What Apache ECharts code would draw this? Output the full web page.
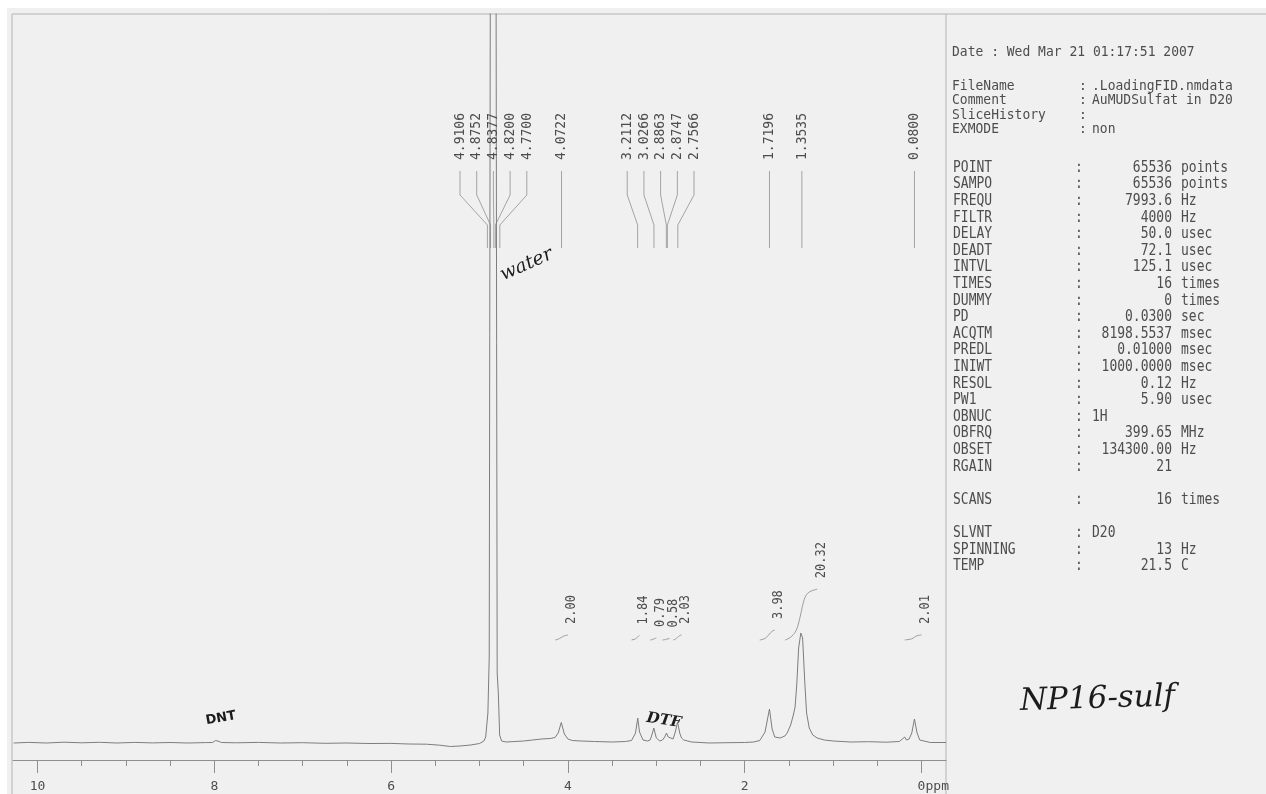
<!DOCTYPE html>
<html><head><meta charset="utf-8">
<script src="https://cdn.jsdelivr.net/npm/echarts@6/dist/echarts.min.js"></script>
<style>
html,body{margin:0;padding:0;background:#fff;overflow:hidden;}
#paper{position:absolute;left:7px;top:8px;width:1259px;height:786px;background:#f0f0f0;}
#c{position:absolute;left:0;top:0;width:1266px;height:794px;}
</style>
</head><body><div id="paper"></div><div id="c"></div>
<script>
// ---- spectrum (chemical shift in ppm, intensity in arbitrary units) ----
const shiftPpm = [10.27,10.1,9.9,9.7,9.5,9.3,9.1,8.9,8.7,8.5,8.3,8.1,8.02,7.985,7.965,7.945,7.92,7.75,7.5,7.25,7.0,6.75,6.5,6.25,6.0,5.8,5.6,5.45,5.33,5.22,5.1,5.0,4.95,4.93,4.905,4.89,4.875,4.815,4.80,4.787,4.772,4.75,4.70,4.6,4.5,4.4,4.3,4.2,4.145,4.11,4.075,4.04,4.0,3.95,3.85,3.7,3.5,3.35,3.28,3.235,3.21,3.19,3.15,3.1,3.07,3.05,3.028,3.0,2.96,2.93,2.905,2.885,2.865,2.85,2.81,2.785,2.76,2.735,2.715,2.69,2.6,2.4,2.2,2.0,1.9,1.83,1.77,1.72,1.69,1.66,1.6,1.545,1.52,1.48,1.45,1.43,1.41,1.39,1.365,1.355,1.345,1.32,1.30,1.27,1.23,1.18,1.1,1.0,0.8,0.6,0.4,0.25,0.19,0.17,0.14,0.11,0.08,0.05,0.02,0.0,-0.1,-0.277];
const intensity = [0,0.6,0,0.8,0.2,0.7,0,0.6,0.1,0.5,0,0.4,0.5,2.5,4,1.5,0.5,0.2,0.6,0,0.3,-0.3,0,-0.5,-0.4,-1,-1.2,-2.2,-3.5,-3,-2,-0.5,2,6,30,86,900,900,70,50,8,2,1,1.5,2,3,4,4.5,5.5,10,20.5,9,4,2.5,2,1.5,1,1.5,2.5,10,25,11,3,2,3,8,15,5,2,3,6,10,6,4,4,11,21,10,5,3,1,0,0.3,0.5,1,2.5,11,34,14,6,5,7,10,18,28,36,60,95,110,112,105,60,30,15,8,5,3,2,1,1.3,0.8,1.5,6,3,4,10,24,10,3,2,0.5,0.5];

// ---- peak picking ----
const peakPpm = [4.9106,4.8752,4.8377,4.8200,4.7700,4.0722,3.2112,3.0266,2.8863,2.8747,2.7566,1.7196,1.3535,0.0800];
const peakLabels = ['4.9106','4.8752','4.8377','4.8200','4.7700','4.0722','3.2112','3.0266','2.8863','2.8747','2.7566','1.7196','1.3535','0.0800'];

// ---- integrals ----
const integralFrom = [4.145,3.28,3.07,2.93,2.81,1.83,1.545,0.19];
const integralTo   = [4.0,3.19,3.0,2.85,2.715,1.66,1.18,0.0];
const integralValues = [2.00,1.84,0.79,0.58,2.03,3.98,20.32,2.01];

// ---- axis ticks ----
const axisTickValues = [0,0.5,1,1.5,2,2.5,3,3.5,4,4.5,5,5.5,6,6.5,7,7.5,8,8.5,9,9.5,10];
const axisLabelValues = [0,2,4,6,8,10];

// ---- acquisition parameters ----
const dateLine = 'Date : Wed Mar 21 01:17:51 2007';
const headerNames = ['FileName','Comment','SliceHistory','EXMODE'];
const headerValues = ['.LoadingFID.nmdata','AuMUDSulfat in D20','','non'];
const paramNames  = ['POINT','SAMPO','FREQU','FILTR','DELAY','DEADT','INTVL','TIMES','DUMMY','PD','ACQTM','PREDL','INIWT','RESOL','PW1','OBNUC','OBFRQ','OBSET','RGAIN',null,'SCANS',null,'SLVNT','SPINNING','TEMP'];
const paramValues = ['65536','65536','7993.6','4000','50.0','72.1','125.1','16','0','0.0300','8198.5537','0.01000','1000.0000','0.12','5.90','1H','399.65','134300.00','21',null,'16',null,'D20','13','21.5'];
const paramUnits  = ['points','points','Hz','Hz','usec','usec','usec','times','times','sec','msec','msec','msec','Hz','usec',null,'MHz','Hz','',null,'times',null,null,'Hz','C'];

// ---- handwritten notes ----
const sampleName = 'NP16-sulf';
const noteWater = 'water';
const noteDNT = 'DNT';
const noteDTF = 'DTF';

const MONO = "'DejaVu Sans Mono', 'Liberation Mono', monospace";
const TXT = '#4d4d4d';
const LINE = '#8f8f8f';

const spectrum = shiftPpm.map((p, i) => [p, intensity[i]]);

function integralCurve(hi, lo, total) {
  const pts = spectrum.filter(d => d[0] <= hi + 1e-9 && d[0] >= lo - 1e-9).sort((a, b) => b[0] - a[0]);
  let cum = 0;
  const out = [[pts[0][0], 0]];
  for (let i = 1; i < pts.length; i++) {
    cum += (pts[i - 1][0] - pts[i][0]) * (pts[i - 1][1] + pts[i][1]) / 2;
    out.push([pts[i][0], cum]);
  }
  return out.map(d => [d[0], d[1] / cum * total]);
}

const chart = echarts.init(document.getElementById('c'));
const xMin = -0.277, xMax = 10.277;

const series = [{
  type: 'line', data: spectrum, xAxisIndex: 0, yAxisIndex: 0,
  showSymbol: false, symbol: 'none', clip: true,
  lineStyle: { color: '#7d7d7d', width: 1 }, z: 3
}];
integralValues.forEach((v, k) => {
  series.push({
    type: 'line', data: integralCurve(integralFrom[k], integralTo[k], v),
    xAxisIndex: 0, yAxisIndex: 1, showSymbol: false, symbol: 'none', smooth: 0.4,
    lineStyle: { color: '#9a9a9a', width: 1 }
  });
});

chart.setOption({
  animation: false,
  backgroundColor: 'transparent',
  grid: { left: 13, right: 320, top: 14, bottom: 34 },
  xAxis: [{
    type: 'value', inverse: true, min: xMin, max: xMax,
    axisLine: { onZero: false, lineStyle: { color: LINE, width: 1 } },
    axisTick: { customValues: axisTickValues, length: 6, lineStyle: { color: LINE } },
    axisLabel: { customValues: axisLabelValues, margin: 20, fontFamily: MONO, fontSize: 13, color: TXT },
    splitLine: { show: false }
  }, {
    type: 'value', inverse: true, min: xMin, max: xMax, position: 'bottom', offset: 0,
    axisLine: { show: false, onZero: false },
    axisTick: { customValues: axisLabelValues, length: 13, lineStyle: { color: LINE } },
    axisLabel: { show: false }, splitLine: { show: false }
  }],
  yAxis: [
    { type: 'value', min: -17, max: 729, show: false },
    { type: 'value', min: -48, max: 250.4, show: false }
  ],
  series: series
});

// ---- overlay graphics ----
const g = [];
const line = (x1, y1, x2, y2, c) => g.push({ type: 'line', silent: true, shape: { x1, y1, x2, y2 }, style: { stroke: c || '#b4b4b4', lineWidth: 1 } });
line(12, 14, 1266, 14);
line(12, 14, 12, 794);
line(946, 14, 946, 794);

function text(t, x, y, opt) {
  opt = opt || {};
  g.push({
    type: 'text', silent: true, x: x, y: y, rotation: opt.rot || 0,
    scaleY: opt.sy || 1, z: 10,
    style: {
      text: t, fill: opt.fill || TXT, fontFamily: opt.family || MONO,
      fontSize: opt.size || 13, fontStyle: opt.style || 'normal', fontWeight: opt.weight || 'normal',
      textAlign: opt.align || 'left', textVerticalAlign: opt.valign || 'middle'
    }
  });
}

// ppm unit next to 0
const x0 = chart.convertToPixel({ xAxisIndex: 0 }, 0);
text('ppm', x0 + 4, 787, { size: 13 });

// peak labels
const ax = peakPpm.map(p => chart.convertToPixel({ xAxisIndex: 0 }, p));
const gap = 16.7;
const groups = [];
let cur = [0];
for (let i = 1; i < ax.length; i++) {
  if (ax[i] - ax[i - 1] < gap) cur.push(i); else { groups.push(cur); cur = [i]; }
}
groups.push(cur);
const lx = [];
groups.forEach(gr => {
  const mean = gr.reduce((s, i) => s + ax[i], 0) / gr.length;
  gr.forEach((i, k) => { lx[i] = mean + (k - (gr.length - 1) / 2) * gap; });
});
peakPpm.forEach((p, i) => {
  text(peakLabels[i], lx[i], 160, { rot: Math.PI / 2, sy: 1.12 });
  g.push({ type: 'polyline', silent: true, shape: { points: [[lx[i], 171], [lx[i], 195], [ax[i], 225], [ax[i], 248]] }, style: { stroke: '#a3a3a3', lineWidth: 1, fill: null } });
});

// integral labels
integralValues.forEach((v, k) => {
  const d = series[k + 1].data;
  const e = chart.convertToPixel({ seriesIndex: k + 1 }, d[d.length - 1]);
  text(v.toFixed(2), e[0] + 4, e[1] - 11, { rot: Math.PI / 2, size: 12, sy: 1.1 });
});

// parameter panel
text(dateLine, 952, 52, { sy: 1.12 });
headerNames.forEach((n, i) => {
  const y = 86 + i * 14.5;
  text(n, 952, y, { sy: 1.12 });
  text(':', 1079, y, { sy: 1.12 });
  if (headerValues[i]) text(headerValues[i], 1092, y, { sy: 1.12 });
});
paramNames.forEach((n, i) => {
  if (n === null) return;
  const y = 168 + i * 16.6;
  text(n, 953, y, { sy: 1.15 });
  text(':', 1075, y, { sy: 1.15 });
  if (paramUnits[i] === null) {
    text(paramValues[i], 1092, y, { sy: 1.15 });
  } else {
    text(paramValues[i], 1172, y, { sy: 1.15, align: 'right' });
    if (paramUnits[i]) text(paramUnits[i], 1181, y, { sy: 1.15 });
  }
});

// handwritten notes
const HAND = "'DejaVu Serif', serif";
const waterX = chart.convertToPixel({ xAxisIndex: 0 }, 4.80);
text(noteWater, waterX + 4, 276, { rot: 0.42, family: HAND, style: 'italic', size: 19, fill: '#1c1c1c' });
const dntX = chart.convertToPixel({ xAxisIndex: 0 }, 7.96);
text(noteDNT, dntX - 12, 721, { rot: 0.18, family: "'DejaVu Sans', sans-serif", weight: 'bold', size: 13, fill: '#1c1c1c' });
const dtfX = chart.convertToPixel({ xAxisIndex: 0 }, 3.03);
text(noteDTF, dtfX - 7, 718, { rot: -0.15, family: HAND, style: 'italic', weight: 'bold', size: 15, fill: '#1c1c1c' });
text(sampleName, 1020, 702, { family: HAND, style: 'italic', size: 31, fill: '#1c1c1c', rot: 0.03 });

chart.setOption({ graphic: { elements: g } });
</script>
</body></html>
